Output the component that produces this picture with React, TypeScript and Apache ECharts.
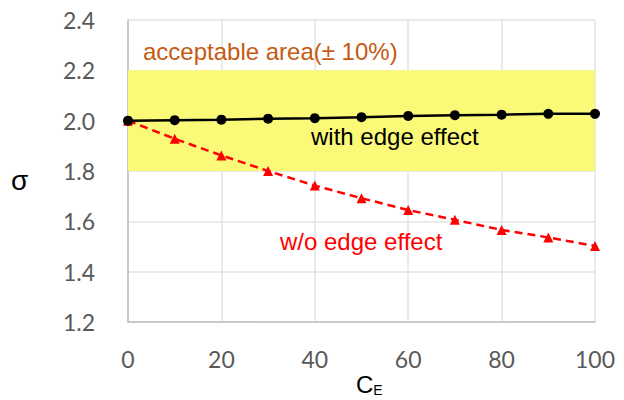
import React, { useEffect, useRef } from "react";
import * as echarts from "echarts";

const ceValues = [0, 10, 20, 30, 40, 50, 60, 70, 80, 90, 100];
const withEdge = [2.0, 2.002, 2.004, 2.008, 2.01, 2.014, 2.019, 2.022, 2.024, 2.027, 2.027];
const withoutEdge = [2.0, 1.928, 1.862, 1.8, 1.742, 1.692, 1.645, 1.606, 1.566, 1.536, 1.502];
const acceptableBand = [1.8, 2.2];
const yTicks = { min: 1.2, max: 2.4, interval: 0.2 };
const xTicks = { min: 0, max: 100, interval: 20 };

export default function App() {
  const ref = useRef<HTMLDivElement>(null);

  useEffect(() => {
    if (!ref.current) return;
    const chart = echarts.init(ref.current, null, { renderer: "svg" });
    const tickFont = { fontFamily: "Lato", fontSize: 23, color: "#595959" };
    const annoFont = "Liberation Sans";

    chart.setOption({
      animation: false,
      backgroundColor: "#ffffff",
      grid: { left: 128, right: 29, top: 20, bottom: 78 },
      xAxis: {
        type: "value",
        min: xTicks.min,
        max: xTicks.max,
        interval: xTicks.interval,
        axisLine: { show: true, lineStyle: { color: "#bfbfbf", width: 1.5 } },
        axisTick: { show: false },
        axisLabel: { ...tickFont, margin: 25 },
        splitLine: { show: true, lineStyle: { color: "#e3e3e3", width: 1.5 } },
      },
      yAxis: {
        type: "value",
        min: yTicks.min,
        max: yTicks.max,
        interval: yTicks.interval,
        axisLine: { show: true, lineStyle: { color: "#bfbfbf", width: 1.5 } },
        axisTick: { show: false },
        axisLabel: { ...tickFont, margin: 33, formatter: (v: number) => v.toFixed(1) },
        splitLine: { show: true, lineStyle: { color: "#e3e3e3", width: 1.5 } },
      },
      series: [
        {
          name: "with edge effect",
          type: "line",
          data: ceValues.map((x, i) => [x, withEdge[i]]),
          symbol: "circle",
          symbolSize: 10,
          itemStyle: { color: "#000000" },
          lineStyle: { color: "#000000", width: 2.5 },
          z: 4,
          markArea: {
            silent: true,
            itemStyle: { color: "#fafa78" },
            data: [[{ yAxis: acceptableBand[0] }, { yAxis: acceptableBand[1] }]],
          },
        },
        {
          name: "w/o edge effect",
          type: "line",
          data: ceValues.map((x, i) => [x, withoutEdge[i]]),
          symbol: "triangle",
          symbolSize: 10,
          itemStyle: { color: "#ff0000" },
          lineStyle: { color: "#ff0000", width: 2.5, type: [8, 5] },
          z: 3,
        },
      ],
      graphic: [
        {
          type: "text",
          z: 100,
          left: 143,
          top: 39,
          style: {
            text: "acceptable area(\u00b1 10%)",
            fontFamily: annoFont,
            fontSize: 24,
            fill: "#c55a11",
          },
        },
        {
          type: "text",
          z: 100,
          left: 311,
          top: 124,
          style: {
            text: "with edge effect",
            fontFamily: annoFont,
            fontSize: 24,
            fill: "#000000",
          },
        },
        {
          type: "text",
          z: 100,
          left: 280,
          top: 229,
          style: {
            text: "w/o edge effect",
            fontFamily: annoFont,
            fontSize: 24,
            fill: "#ff0000",
          },
        },
        {
          type: "text",
          z: 100,
          left: 11,
          top: 166,
          style: {
            text: "\u03c3",
            fontFamily: annoFont,
            fontSize: 28,
            fill: "#000000",
          },
        },
        {
          type: "text",
          z: 100,
          left: 356,
          top: 372,
          style: {
            text: "{c|C}{e|E}",
            rich: {
              c: { fontFamily: annoFont, fontSize: 24, fill: "#000000", color: "#000000" },
              e: {
                fontFamily: annoFont,
                fontSize: 14,
                fill: "#000000",
                color: "#000000",
                padding: [11, 0, 0, 0],
              },
            },
          },
        },
      ],
    });

    return () => chart.dispose();
  }, []);

  return (
    <div
      ref={ref}
      style={{ position: "fixed", left: 0, top: 0, width: 624, height: 400 }}
    />
  );
}
